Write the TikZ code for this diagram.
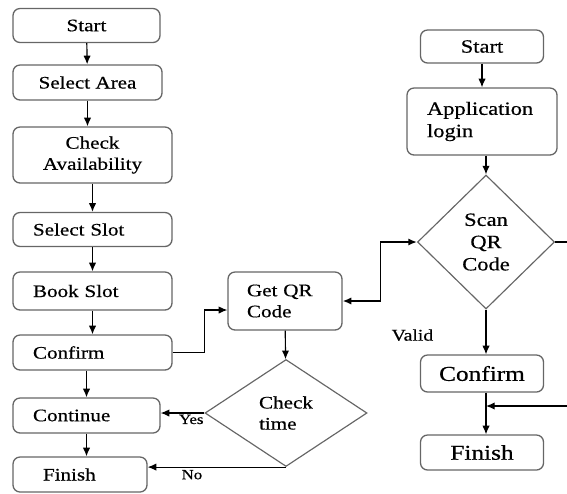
\documentclass[tikz,border=0pt]{standalone}
\usepackage{fontspec}
\setmainfont[FakeStretch=1.2,FakeBold=0.5]{Liberation Serif}
\usetikzlibrary{arrows.meta,positioning,shapes.geometric}

\tikzset{
	stepbox/.style={rectangle,rounded corners=6pt,draw=black!60,line width=1.1pt,
		inner sep=2pt,font=\fontsize{15}{18}\selectfont},
	leftbox/.style={stepbox,align=left,inner xsep=0.6cm},
	testshape/.style={diamond,draw=black!60,line width=1pt,inner sep=0pt,aspect=1,
		font=\fontsize{15}{18}\selectfont},
	arr/.style={-{Latex[length=2.6mm,width=2.2mm]},line width=1pt},
}

\begin{document}
\begin{tikzpicture}[x=0.03cm,y=-0.03cm]
\useasboundingbox (0,0) rectangle (567,493);

% booking side
\begin{scope}
	\node[stepbox,minimum width=4.41cm,minimum height=1.02cm] (lstart) at (86.5,25.5) {Start};
	\node[stepbox,minimum width=4.47cm,minimum height=1.05cm] (larea) at (87.5,82.5) {Select Area};
	\node[stepbox,align=center,minimum width=4.77cm,minimum height=1.68cm] (lcheck) at (92.5,155) {Check\\Availability};
	\node[leftbox,text width=3.57cm,minimum height=1.02cm] (lslot) at (92.5,229.5) {Select Slot};
	\node[leftbox,text width=3.57cm,minimum height=1.14cm] (lbook) at (92.5,291) {Book Slot};
	\node[leftbox,text width=3.57cm,minimum height=1.05cm] (lconfirm) at (92.5,352.5) {Confirm};
	\node[leftbox,text width=3.21cm,minimum height=1.05cm] (lcontinue) at (86.5,415.5) {Continue};
	\node[leftbox,inner xsep=0.9cm,text width=2.22cm,minimum height=1.05cm] (lfinish) at (80,474.5) {Finish};
\end{scope}

% QR side
\begin{scope}
	\node[leftbox,inner xsep=0.57cm,text width=2.28cm,minimum height=1.74cm] (getqr) at (285,301) {Get QR\\Code};
	\node[testshape,align=left,minimum width=4.86cm,minimum height=3.21cm] (ctime) at (286,413) {Check\\time};

	\node[stepbox,font=\fontsize{16}{19}\selectfont,minimum width=3.69cm,minimum height=0.99cm] (rstart) at (482,46.5) {Start};
	\node[leftbox,font=\fontsize{16}{19}\selectfont,inner xsep=0.6cm,text width=3.3cm,minimum height=2.01cm] (rlogin) at (482,121.5) {Application\\login};
	\node[testshape,align=center,font=\fontsize{16}{19}\selectfont,minimum width=4.11cm,minimum height=4.02cm] (scan) at (486,242) {Scan\\QR\\Code};
	\node[stepbox,font=\fontsize{18}{21}\selectfont,minimum width=3.69cm,minimum height=1.11cm] (rconfirm) at (482,373.5) {Confirm};
	\node[stepbox,font=\fontsize{18}{21}\selectfont,minimum width=3.69cm,minimum height=1.05cm] (rfinish) at (482,452.5) {Finish};

	\coordinate (rloop) at (575,406);
\end{scope}

\begin{scope}
	\draw[arr] (lstart) -- (larea);
	\draw[arr] (larea.south) -- (larea.south |- lcheck.north);
	\draw[arr] (lcheck) -- (lslot);
	\draw[arr] (lslot) -- (lbook);
	\draw[arr] (lbook) -- (lconfirm);
	\draw[arr] (lcontinue.north |- lconfirm.south) -- (lcontinue.north);
	\draw[arr] (lcontinue.south) -- (lcontinue.south |- lfinish.north);

	\draw[arr] (lconfirm.east) -- ++(32,0) |- ([yshift=-0.27cm]getqr.west);
	\draw[arr] (getqr) -- (ctime);
	\draw[arr] (ctime.west) -- (ctime.west -| lcontinue.east)
		node[pos=0.3,below,inner sep=1pt,font=\fontsize{12}{14}\selectfont] {Yes};
	\draw[arr] (ctime.south) -- (ctime.south -| lfinish.east)
		node[pos=0.68,below,inner sep=2pt,font=\fontsize{12}{14}\selectfont] {No};
	\draw[{Latex[length=2.6mm,width=2.2mm]}-{Latex[length=2.6mm,width=2.2mm]},line width=1.4pt] (getqr.east) -- ++(38,0) |- (scan.west);

	\draw[arr] (rstart) -- (rlogin);
	\draw[arr] (scan.north |- rlogin.south) -- (scan.north);
	\draw[arr] (scan.south) -- (scan.south |- rconfirm.north)
		node[pos=0.57,left=1.45cm,font=\fontsize{14}{16}\selectfont] {Valid};
	\draw[arr] (scan.south |- rconfirm.south) -- (scan.south |- rfinish.north);
	\draw[arr] (scan.east) -- (scan.east -| rloop) -- (rloop) -- (scan.south |- rloop);
\end{scope}
\end{tikzpicture}
\end{document}
